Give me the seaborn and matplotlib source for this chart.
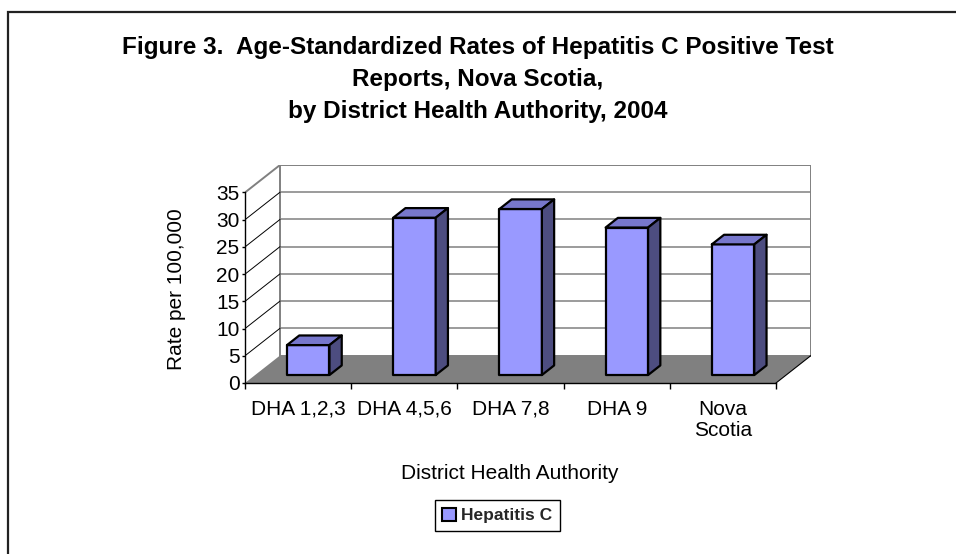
import matplotlib
matplotlib.use("Agg")
import matplotlib.pyplot as plt
import seaborn as sns
import pandas as pd
from matplotlib.patches import Polygon, Rectangle, Patch

# Chart data
districts = ["DHA 1,2,3", "DHA 4,5,6", "DHA 7,8", "DHA 9", "Nova Scotia"]
tick_labels = ["DHA 1,2,3", "DHA 4,5,6", "DHA 7,8", "DHA 9", "Nova\nScotia"]
rates = [5.5, 28.9, 30.5, 27.1, 24.0]
y_ticks = [0, 5, 10, 15, 20, 25, 30, 35]
series_name = "Hepatitis C"
title_lines = [
    "Figure 3.  Age-Standardized Rates of Hepatitis C Positive Test",
    "Reports, Nova Scotia,",
    "by District Health Authority, 2004",
]

sns.set_theme(style="white")
plt.rcParams["font.family"] = ["Liberation Sans", "DejaVu Sans"]

FRONT = "#9999FF"
TOP = "#7777CC"
SIDE = "#4D4D80"
FLOOR = "#808080"
WALL = "#808080"

W, H = 956, 554
fig = plt.figure(figsize=(W / 100, H / 100), dpi=100)
fig.patch.set_facecolor("white")


def fx(px):
    return px / W


def fy(py):
    return 1 - py / H


# Axes spans the front plane plus the receding depth of the 3-D box
ax = fig.add_axes([fx(245), fy(383), fx(811) - fx(245), fy(165) - fy(383)])
ax.set_facecolor("none")

n = len(districts)
ymax = y_ticks[-1]
x0, x1 = -0.5, n - 0.5
DX = 35 / 106.2      # depth of the box in category units
DY = 5.05            # depth of the box in value units

df = pd.DataFrame({"District": districts, "Rate": rates})
sns.barplot(data=df, x="District", y="Rate", order=districts, width=0.4,
            color=FRONT, saturation=1, edgecolor="black", linewidth=1.6,
            errorbar=None, ax=ax, zorder=4)
bars = list(ax.patches)

# Back wall, side wall and floor
ax.add_patch(Polygon([(x0 + DX, DY), (x1 + DX, DY), (x1 + DX, ymax + DY), (x0 + DX, ymax + DY)],
                     closed=True, facecolor="white", edgecolor=WALL, lw=1.4, zorder=1))
ax.plot([x0, x0 + DX], [ymax, ymax + DY], color=WALL, lw=1.4, zorder=1.2)
for v in y_ticks[1:-1]:
    ax.plot([x0 + DX, x1 + DX], [v + DY, v + DY], color=WALL, lw=1.1, zorder=1.5)
    ax.plot([x0, x0 + DX], [v, v + DY], color="black", lw=0.7, zorder=1.5)
ax.add_patch(Polygon([(x0, 0), (x1, 0), (x1 + DX, DY), (x0 + DX, DY)],
                     closed=True, facecolor=FLOOR, edgecolor="none", zorder=2))
ax.plot([x1, x1 + DX], [0, DY], color="black", lw=0.8, zorder=2.1)

# Give each bar a top and a side face
f_front, f_depth = 0.29, 0.35
ddx, ddy = f_depth * DX, f_depth * DY
for bar in bars:
    bar.set_x(bar.get_x() + f_front * DX)
    bar.set_y(f_front * DY)
    bar.set_joinstyle("round")
    x, y, w, h = bar.get_x(), bar.get_y(), bar.get_width(), bar.get_height()
    ax.add_patch(Polygon([(x, y + h), (x + ddx, y + h + ddy), (x + w + ddx, y + h + ddy), (x + w, y + h)],
                         closed=True, facecolor=TOP, edgecolor="black", lw=1.6,
                         joinstyle="round", zorder=4))
    ax.add_patch(Polygon([(x + w, y), (x + w + ddx, y + ddy), (x + w + ddx, y + h + ddy), (x + w, y + h)],
                         closed=True, facecolor=SIDE, edgecolor="black", lw=1.6,
                         joinstyle="round", zorder=4))

ax.set_xlim(x0, x1 + DX)
ax.set_ylim(0, ymax + DY)

# Axes lines and ticks
ax.spines["top"].set_visible(False)
ax.spines["right"].set_visible(False)
for s in ["left", "bottom"]:
    ax.spines[s].set_color("black")
    ax.spines[s].set_linewidth(1.0)
    ax.spines[s].set_zorder(2.5)
ax.spines["left"].set_bounds(0, ymax)
ax.spines["bottom"].set_bounds(x0, x1)

ax.set_yticks(y_ticks)
ax.set_yticklabels([str(t) for t in y_ticks])
ax.tick_params(axis="y", left=True, length=2.5, width=1, color="black",
               labelsize=15, labelcolor="black", pad=1.5)
ax.set_xticks(range(n))
ax.set_xticklabels(tick_labels)
ax.set_xticks([x0 + i for i in range(n + 1)], minor=True)
ax.tick_params(axis="x", which="major", bottom=False, length=0, pad=12,
               labelsize=15, labelcolor="black")
ax.tick_params(axis="x", which="minor", bottom=True, length=4, width=1, color="black")
for lbl in ax.get_xticklabels():
    lbl.set_linespacing(1.15)

ax.set_ylabel("Rate per 100,000", fontsize=15, color="black")
ax.yaxis.set_label_coords(-0.105, 0.43)
ax.set_xlabel("District Health Authority", fontsize=15, color="black")
ax.xaxis.set_label_coords(0.468, -0.37)

# Title
for line, base in zip(title_lines, [54, 86, 118]):
    fig.text(0.5, fy(base), line, ha="center", va="baseline",
             fontsize=17.5, fontweight="bold", color="black")

# Legend
handle = Patch(facecolor=FRONT, edgecolor="black", linewidth=1.5)
leg = fig.legend([handle], [series_name], loc="center", bbox_to_anchor=(fx(497.5), fy(515.5)),
                 frameon=True, fancybox=False, edgecolor="black", framealpha=1,
                 prop={"weight": "bold", "size": 12.5}, handlelength=0.8, handleheight=0.8,
                 handletextpad=0.3, borderpad=0.45, borderaxespad=0)
leg.get_frame().set_linewidth(1.0)

# Outer chart frame
fig.add_artist(Rectangle((fx(8), -0.2), 1.2, fy(12) + 0.2, transform=fig.transFigure,
                         fill=False, edgecolor="#222222", linewidth=1.6))

fig.savefig("out.png", dpi=100, facecolor="white")
